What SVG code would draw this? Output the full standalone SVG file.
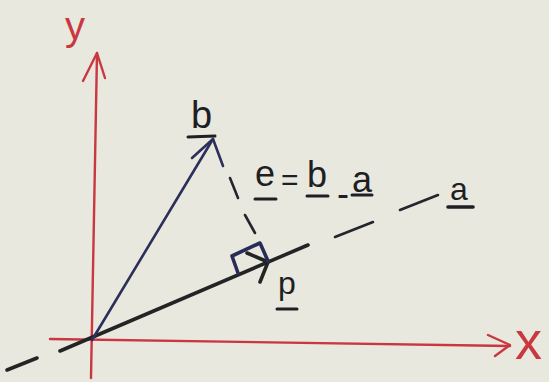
<svg xmlns="http://www.w3.org/2000/svg" width="549" height="382" viewBox="0 0 549 382">
<style>
.axis{stroke:#c9373f;stroke-width:2.4;fill:none;stroke-linecap:round;stroke-linejoin:round}
.vb{stroke:#2c2f5c;stroke-width:2.6;fill:none;stroke-linecap:round;stroke-linejoin:round}
.va{stroke:#222524;stroke-width:3.6;fill:none;stroke-linecap:round;stroke-linejoin:round}
.dash{stroke:#24262e;stroke-width:2.6;fill:none;stroke-linecap:round}
.sq{stroke:#2a2c58;stroke-width:3.6;fill:none;stroke-linecap:round;stroke-linejoin:round}
.ul{stroke:#1e1f24;stroke-width:3;stroke-linecap:round}
.lbl{font-family:"Liberation Sans",Arial,sans-serif;fill:#1e1f24}
.rlbl{font-family:"Liberation Sans",Arial,sans-serif;fill:#c9373f}
</style>
<rect width="549" height="382" fill="#e9e8de"/>
<g id="y-axis">
<line class="axis" x1="97" y1="53" x2="91" y2="378"/>
<polyline class="axis" points="83,81 97,53 105,78"/>
<text class="rlbl" x="65" y="40" font-size="40">y</text>
</g>
<g id="x-axis">
<line class="axis" x1="50" y1="339" x2="510" y2="346"/>
<polyline class="axis" points="488,335 510,345 495,356"/>
<text class="rlbl" x="515" y="359" font-size="54">x</text>
</g>
<g id="connectors">
<g id="vector-a">
<line class="va" x1="60" y1="351" x2="308" y2="245"/>
<line class="va" x1="7" y1="370" x2="37" y2="358"/>
<line class="dash" x1="335" y1="237" x2="373" y2="222"/>
<line class="dash" x1="400" y1="210" x2="438" y2="195"/>
<polyline class="va" points="247,253 268,262 260,282"/>
</g>
<g id="vector-b">
<line class="vb" x1="92" y1="340" x2="213" y2="139"/>
<polyline class="vb" points="192,158 213,139 223,166"/>
</g>
<g id="vector-e">
<line class="dash" x1="230" y1="178" x2="238" y2="198"/>
<line class="dash" x1="245" y1="215" x2="255" y2="233"/>
</g>
<polyline id="right-angle" class="sq" points="238,273 232,256 260,243 268,261"/>
</g>
<g id="label-b">
<text class="lbl" x="191" y="128" font-size="38">b</text>
<line class="ul" x1="188" y1="137" x2="215" y2="136"/>
</g>
<g id="label-e">
<text class="lbl" font-size="36"><tspan x="255" y="186">e</tspan><tspan x="281" y="190" font-size="30">=</tspan><tspan x="307" y="187">b</tspan><tspan x="337" y="206">-</tspan><tspan x="352" y="192">a</tspan></text>
<line class="ul" x1="255" y1="199" x2="276" y2="199"/>
<line class="ul" x1="307" y1="196" x2="328" y2="196"/>
<line class="ul" x1="352" y1="195" x2="372" y2="195"/>
</g>
<g id="label-a">
<text class="lbl" x="450" y="200" font-size="32">a</text>
<line class="ul" x1="448" y1="207" x2="473" y2="207" style="stroke-width:3.6"/>
</g>
<g id="label-p">
<text class="lbl" x="278" y="294" font-size="32">p</text>
<line class="ul" x1="277" y1="309" x2="297" y2="309"/>
</g>
</svg>
